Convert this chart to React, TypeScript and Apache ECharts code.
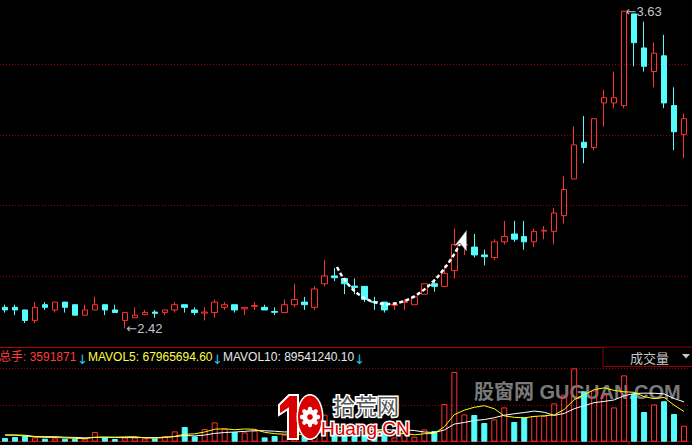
import React, { useEffect, useRef } from "react";
import * as echarts from "echarts";

// [open, close, lowest, highest]
const candles: number[][] = [
  [2.5, 2.49, 2.48, 2.51], [2.5, 2.49, 2.47, 2.51], [2.49, 2.45, 2.44, 2.49], [2.45, 2.5, 2.44, 2.52],
  [2.51, 2.5, 2.49, 2.52], [2.49, 2.52, 2.48, 2.52], [2.52, 2.5, 2.48, 2.52], [2.51, 2.47, 2.47, 2.51],
  [2.47, 2.49, 2.47, 2.51], [2.49, 2.51, 2.49, 2.54], [2.51, 2.49, 2.47, 2.51], [2.49, 2.48, 2.48, 2.51],
  [2.45, 2.48, 2.42, 2.48], [2.46, 2.47, 2.46, 2.5], [2.472, 2.48, 2.47, 2.49], [2.482, 2.477, 2.46, 2.49],
  [2.48, 2.49, 2.47, 2.49], [2.49, 2.51, 2.48, 2.52], [2.51, 2.5, 2.48, 2.51], [2.49, 2.48, 2.47, 2.5],
  [2.478, 2.482, 2.45, 2.5], [2.48, 2.52, 2.46, 2.53], [2.5, 2.51, 2.49, 2.52], [2.51, 2.49, 2.48, 2.51],
  [2.494, 2.5, 2.47, 2.5], [2.504, 2.507, 2.49, 2.52], [2.5, 2.49, 2.49, 2.51], [2.484, 2.481, 2.47, 2.5],
  [2.48, 2.51, 2.48, 2.53], [2.51, 2.53, 2.5, 2.59], [2.52, 2.51, 2.49, 2.54], [2.5, 2.57, 2.49, 2.58],
  [2.59, 2.62, 2.58, 2.68], [2.62, 2.613, 2.6, 2.65], [2.61, 2.59, 2.55, 2.61], [2.581, 2.576, 2.55, 2.61],
  [2.58, 2.53, 2.52, 2.58], [2.522, 2.519, 2.49, 2.54], [2.52, 2.49, 2.48, 2.52], [2.508, 2.511, 2.49, 2.52],
  [2.519, 2.523, 2.49, 2.53], [2.51, 2.54, 2.51, 2.54], [2.55, 2.59, 2.55, 2.59], [2.59, 2.58, 2.56, 2.6],
  [2.58, 2.63, 2.58, 2.66], [2.64, 2.74, 2.61, 2.8], [2.737, 2.741, 2.7, 2.77], [2.73, 2.7, 2.69, 2.78],
  [2.7, 2.693, 2.66, 2.72], [2.69, 2.75, 2.68, 2.76], [2.75, 2.77, 2.74, 2.83], [2.78, 2.76, 2.75, 2.83],
  [2.77, 2.75, 2.72, 2.83], [2.75, 2.79, 2.73, 2.8], [2.791, 2.794, 2.76, 2.81], [2.79, 2.86, 2.74, 2.88],
  [2.85, 2.95, 2.82, 3.0], [2.99, 3.12, 2.99, 3.19], [3.13, 3.11, 3.05, 3.23], [3.11, 3.22, 3.1, 3.22],
  [3.28, 3.3, 3.19, 3.33], [3.28, 3.3, 3.26, 3.4], [3.27, 3.63, 3.26, 3.63], [3.62, 3.51, 3.42, 3.62],
  [3.49, 3.42, 3.4, 3.59], [3.4, 3.47, 3.34, 3.51], [3.46, 3.28, 3.26, 3.54], [3.27, 3.17, 3.1, 3.34],
  [3.16, 3.22, 3.07, 3.24],
];

const volumes: number[] = [
  8300000, 10600000, 12800000, 9700000, 6800000, 7400000, 6800000, 6800000, 6800000, 21800000,
  9700000, 6100000, 9700000, 9700000, 7400000, 7400000, 12800000, 23200000, 33100000, 11900000,
  28600000, 43400000, 28600000, 21800000, 20900000, 24800000, 9700000, 12800000, 15800000, 22500000,
  13500000, 27000000, 60800000, 36000000, 27000000, 22500000, 27000000, 15800000, 20300000, 9700000,
  20300000, 11300000, 27700000, 24100000, 84800000, 156800000, 61400000, 60100000, 42100000, 50200000,
  77200000, 44300000, 54700000, 57800000, 57800000, 86200000, 105800000, 164900000, 113200000, 115400000,
  106400000, 77200000, 149200000, 107300000, 66800000, 83900000, 91000000, 62300000, 35918710,
];

// moving-average values before a full window is available
const mavol5Head = [15100000, 14600000, 12800000, 10800000];
const mavol10Head = [15100000, 15100000, 14600000, 11700000, 11300000, 11300000, 10100000, 9700000, 8600000];

const categories = candles.map((_, i) => String(i + 1));

const headerTotal = "总手: 3591871";
const headerMa5 = "MAVOL5: 67965694.60";
const headerMa10 = "MAVOL10: 89541240.10";
const panelName = "成交量";
const watermark1 = "股窗网 GUGUAN.COM";

const RED = "#ff3232";
const CYAN = "#54fcfc";
const DOT_RED = "#a00000";
const SOLID_RED = "#b40000";

function movingAvg(vals: number[], n: number, head: number[]) {
  return vals.map((_, i) => {
    if (i < n - 1) return head[i];
    let s = 0;
    for (let j = i - n + 1; j <= i; j++) s += vals[j];
    return +(s / n).toFixed(2);
  });
}

const FONT = '"Liberation Sans", "Noto Sans CJK SC", sans-serif';
const ARROW_FONT = '"DejaVu Sans", sans-serif';

function txt(x: number, y: number, text: string, fill: string, font: string, extra: any = {}) {
  return {
    type: "text",
    x,
    y,
    z: 100,
    style: { text, fill, font, align: "left", verticalAlign: "middle", ...extra },
  };
}

export default function App() {
  const ref = useRef<HTMLDivElement>(null);
  useEffect(() => {
    document.body.style.margin = "0";
    document.body.style.background = "#000";
    const chart = echarts.init(ref.current!, null, { renderer: "svg" });
    const ma5 = movingAvg(volumes, 5, mavol5Head);
    const ma10 = movingAvg(volumes, 10, mavol10Head);
    const volData = volumes.map((v, i) => {
      const up = candles[i][1] >= candles[i][0];
      return {
        value: v,
        itemStyle: up
          ? { color: "transparent", borderColor: RED, borderWidth: 1 }
          : { color: CYAN, borderColor: CYAN, borderWidth: 1 },
      };
    });

    const gearDots: any[] = [];
    for (let k = 0; k < 8; k++) {
      const a = (k * Math.PI) / 4;
      gearDots.push({
        type: "circle",
        z: 101,
        shape: { cx: 310 + Math.cos(a) * 8, cy: 417 + Math.sin(a) * 8, r: 2.2 },
        style: { fill: "#fff" },
      });
    }

    const axisOff = { axisLabel: { show: false }, axisTick: { show: false } };

    chart.setOption({
      animation: false,
      backgroundColor: "#000",
      grid: [
        { left: 0, width: 689, top: 0, height: 347, outerBoundsMode: "none", containLabel: false },
        { left: 0, width: 689, top: 368, height: 73.7, outerBoundsMode: "none", containLabel: false },
      ],
      xAxis: [
        {
          type: "category", gridIndex: 0, data: categories, ...axisOff,
          axisLine: { show: true, onZero: false, lineStyle: { color: SOLID_RED, width: 1 } },
          splitLine: { show: false },
        },
        {
          type: "category", gridIndex: 1, data: categories, ...axisOff,
          axisLine: { show: true, onZero: false, lineStyle: { color: SOLID_RED, width: 1 } },
          splitLine: { show: false },
        },
      ],
      yAxis: [
        {
          type: "value", gridIndex: 0, min: 2.3486, max: 3.673, ...axisOff,
          axisLine: { show: false }, splitLine: { show: false },
        },
        {
          type: "value", gridIndex: 0, min: 0, max: 4.905, interval: 1, ...axisOff,
          axisLine: { show: false },
          splitLine: { show: true, showMaxLine: false, lineStyle: { color: DOT_RED, width: 1, type: [1, 2] } },
        },
        {
          type: "value", gridIndex: 1, min: 0, max: 165800000, interval: 82900000, ...axisOff,
          axisLine: { show: false },
          splitLine: { show: true, lineStyle: { color: DOT_RED, width: 1, type: [1, 2] } },
        },
      ],
      series: [
        {
          type: "candlestick",
          xAxisIndex: 0,
          yAxisIndex: 0,
          data: candles,
          barWidth: 6,
          z: 5,
          itemStyle: {
            color: "transparent",
            color0: CYAN,
            borderColor: RED,
            borderColor0: CYAN,
            borderWidth: 1,
          },
          markPoint: {
            symbol: "circle",
            symbolSize: 1,
            itemStyle: { color: "transparent" },
            label: {
              show: true,
              position: "right",
              distance: 1,
              color: "#c4c4cc",
              formatter: (p: any) => "{a|←}{v|" + Number(p.value).toFixed(2) + "}",
              rich: {
                a: { fontFamily: ARROW_FONT, fontSize: 13, color: "#b8b8b8" },
                v: { fontFamily: '"Liberation Sans", sans-serif', fontSize: 13, color: "#c4c4cc" },
              },
            },
            data: [
              { type: "max", valueDim: "highest" },
              { type: "min", valueDim: "lowest" },
            ],
          },
        },
        {
          type: "bar",
          xAxisIndex: 1,
          yAxisIndex: 2,
          data: volData,
          barWidth: 6,
          z: 5,
        },
        {
          type: "line",
          xAxisIndex: 1,
          yAxisIndex: 2,
          data: ma10,
          symbol: "none",
          z: 6,
          lineStyle: { color: "#ffffff", width: 1 },
        },
        {
          type: "line",
          xAxisIndex: 1,
          yAxisIndex: 2,
          data: ma5,
          symbol: "none",
          z: 7,
          lineStyle: { color: "#ffff00", width: 1 },
        },
      ],
      graphic: [
        // watermark behind the series
        {
          type: "text", x: 474, y: 392, z: -10, zlevel: 0,
          style: { text: watermark1, fill: "#7a7a7a", font: 'bold 20px "Liberation Sans", "Noto Sans CJK SC", sans-serif', align: "left", verticalAlign: "middle" },
        },
        // header
        txt(-1, 357, headerTotal, "#ff3c3c", "12px " + FONT),
        txt(77, 359, "↓", "#1ec8f0", "13px " + ARROW_FONT),
        txt(88, 357, headerMa5, "#ffff40", "12px " + FONT),
        txt(212, 359, "↓", "#1ec8f0", "13px " + ARROW_FONT),
        txt(223, 357, headerMa10, "#e8e8e8", "12px " + FONT),
        txt(354, 359, "↓", "#1ec8f0", "13px " + ARROW_FONT),
        {
          type: "rect", z: 100,
          shape: { x: 603, y: 347, width: 95, height: 19.5 },
          style: { fill: "#000", stroke: "#8c0000", lineWidth: 1 },
        },
        txt(630, 358, panelName, "#c8c8c8", "13px " + FONT),
        {
          type: "polygon", z: 101,
          shape: { points: [[682, 354], [690, 354], [686, 358.5]] },
          style: { fill: "#c8c8c8" },
        },
        {
          type: "line", z: 100,
          shape: { x1: 629, y1: 442, x2: 629, y2: 445 },
          style: { stroke: SOLID_RED, lineWidth: 1 },
        },
        // dashed arrow annotation
        {
          type: "bezierCurve", z: 100,
          shape: { x1: 337, y1: 267, cpx1: 362, cpy1: 318, cpx2: 418, cpy2: 322, x2: 460, y2: 244 },
          style: { stroke: "#ffffff", lineWidth: 2.5, lineDash: [4, 2.5], fill: null },
        },
        {
          type: "polygon", z: 101,
          shape: { points: [[466.5, 230.5], [454.5, 246], [460, 243], [466.5, 251]] },
          style: { fill: "#ffffff", stroke: "#888", lineWidth: 0.5 },
        },
        // logo 10 拾荒网 Huang.CN
        {
          type: "polygon", z: 100,
          shape: { points: [[289, 395], [298, 395], [298, 439], [288, 439], [288, 409], [279, 415], [279, 405]] },
          style: { fill: "#d80000", stroke: "#ffffff", lineWidth: 2 },
        },
        {
          type: "ellipse", z: 100,
          shape: { cx: 310, cy: 417, rx: 13.5, ry: 23 },
          style: { fill: "#ffffff" },
        },
        {
          type: "ellipse", z: 100,
          shape: { cx: 310, cy: 417, rx: 12, ry: 21.5 },
          style: { fill: "#d80000" },
        },
        {
          type: "circle", z: 101,
          shape: { cx: 310, cy: 417, r: 7.5 },
          style: { fill: "#ffffff" },
        },
        ...gearDots,
        {
          type: "circle", z: 102,
          shape: { cx: 310, cy: 417, r: 2.8 },
          style: { fill: "#d80000" },
        },
        txt(333, 404, "拾荒网", "#555555", '22px "Noto Sans CJK SC", sans-serif', { stroke: "#ffffff", lineWidth: 3 }),
        txt(321, 428, "Huang.CN", "#d80000", "19px " + FONT, { stroke: "#ffffff", lineWidth: 3 }),
      ],
    });
    return () => chart.dispose();
  }, []);
  return <div ref={ref} style={{ width: 692, height: 445 }} />;
}
